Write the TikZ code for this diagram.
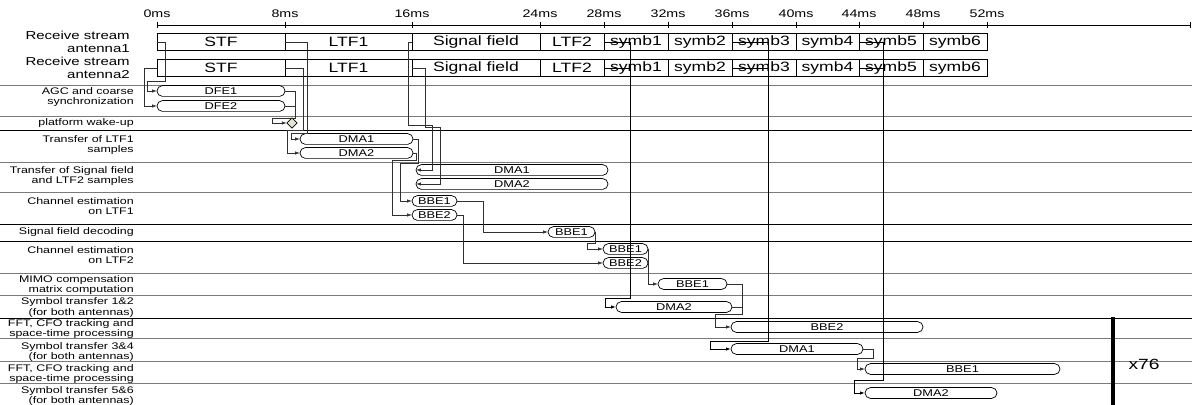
\documentclass[tikz,border=0pt]{standalone}
\usepackage{fontspec}
\setmainfont{Liberation Sans}[FakeStretch=1.3]
\usepackage{tikz}
\usetikzlibrary{positioning,arrows.meta,shapes.misc,shapes.geometric}
\definecolor{rowGray}{HTML}{7A7A7A}
\definecolor{linkGray}{HTML}{303030}
\definecolor{wakeFill}{HTML}{E4E4CE}

\begin{document}
\begin{tikzpicture}[
  x=0.025cm, y=-0.025cm,
  ticklab/.style={font=\fontsize{7.8}{8}\selectfont, inner sep=0pt},
  stream/.style={font=\fontsize{8.2}{9}\selectfont, align=right, anchor=east, inner sep=0pt},
  seg/.style={draw, line width=0.6pt, minimum height=0.435cm, inner sep=0pt,
              outer sep=0pt, font=\fontsize{9.6}{10}\selectfont},
  rowlab/.style={font=\fontsize{6.8}{7.2}\selectfont, align=right, anchor=east, inner sep=0pt},
  pill/.style={rounded rectangle, draw, line width=0.5pt, minimum height=0.27cm,
               inner sep=0pt, outer sep=0pt, font=\fontsize{7}{7}\selectfont},
  wake/.style={diamond, draw, line width=0.5pt, fill=wakeFill, inner sep=0pt,
               minimum size=0.26cm, outer sep=0pt},
  rowline/.style={draw=rowGray, line width=0.7pt},
  wire/.style={line width=0.5pt, linkGray},
  conn/.style={wire, -{Latex[length=3.5pt,width=2.4pt]}},
  symwire/.style={line width=0.7pt, black},
  symconn/.style={symwire, -{Latex[length=3.5pt,width=2.4pt]}},
]
\useasboundingbox[fill=white] (0,0) rectangle (1192,405);

% Time axis
\draw[line width=0.6pt] (157,25) -- (1190,25);
\draw[line width=0.5pt] (157,22) -- (157,28) (285,22) -- (285,28) (412,22) -- (412,28)
  (540,22) -- (540,28) (604,22) -- (604,28) (668,22) -- (668,28) (732,22) -- (732,28)
  (796,22) -- (796,28) (859,22) -- (859,28) (923,22) -- (923,28) (987,22) -- (987,28)
  (1190,22) -- (1190,28);
\node[ticklab] (t0) at (157,14) {0ms};
\node[ticklab] (t8) at (285,14) {8ms};
\node[ticklab] (t16) at (412,14) {16ms};
\node[ticklab] (t24) at (540,14) {24ms};
\node[ticklab] (t28) at (604,14) {28ms};
\node[ticklab] (t32) at (668,14) {32ms};
\node[ticklab] (t36) at (732,14) {36ms};
\node[ticklab] (t40) at (796,14) {40ms};
\node[ticklab] (t44) at (859,14) {44ms};
\node[ticklab] (t48) at (923,14) {48ms};
\node[ticklab] (t52) at (987,14) {52ms};

% Row separators
\draw[rowline] (0,85) -- (1192,85);
\draw[rowline] (0,116) -- (1192,116);
\draw[rowline, draw=black] (0,130) -- (1192,130);
\draw[rowline] (0,162) -- (1192,162);
\draw[rowline] (0,192) -- (1192,192);
\draw[rowline, draw=black] (0,224) -- (1192,224);
\draw[rowline, draw=black] (0,241) -- (1192,241);
\draw[rowline] (0,273) -- (1192,273);
\draw[rowline] (0,295) -- (1192,295);
\draw[rowline, draw=black] (0,318) -- (1192,318);
\draw[rowline] (0,338) -- (1192,338);
\draw[rowline] (0,361) -- (1192,361);
\draw[rowline] (0,383) -- (1192,383);

% Row labels
\node[stream] (lant1) at (130,42) {Receive stream\\antenna1};
\node[stream] (lant2) at (130,68) {Receive stream\\antenna2};
\node[rowlab] (lagc) at (134,97) {AGC and coarse\\synchronization};
\node[rowlab] (lwake) at (134,123) {platform wake-up};
\node[rowlab] (lltf) at (134,145) {Transfer of LTF1\\samples};
\node[rowlab] (lsig) at (134,176) {Transfer of Signal field\\and LTF2 samples};
\node[rowlab] (lcea) at (134,206) {Channel estimation\\on LTF1};
\node[rowlab] (lsfd) at (134,232) {Signal field decoding};
\node[rowlab] (lceb) at (134,255) {Channel estimation\\on LTF2};
\node[rowlab] (lmimo) at (134,285) {MIMO compensation\\matrix computation};
\node[rowlab] (lsta) at (134,307.5) {Symbol transfer 1\&2\\(for both antennas)};
\node[rowlab] (lffta) at (134,329) {FFT, CFO tracking and\\space-time processing};
\node[rowlab] (lstb) at (134,352) {Symbol transfer 3\&4\\(for both antennas)};
\node[rowlab] (lfftb) at (134,374) {FFT, CFO tracking and\\space-time processing};
\node[rowlab] (lstc) at (134,396) {Symbol transfer 5\&6\\(for both antennas)};

% Antenna 1 stream
\node[seg, minimum width=3.2cm] (a1stf) at (221,42) {STF};
\node[seg, minimum width=3.175cm] (a1ltf) at (348.5,42) {LTF1};
\node[seg, minimum width=3.2cm] (a1sig) at (476,42) {Signal field};
\node[seg, minimum width=1.6cm] (a1ltfb) at (572,42) {LTF2};
\node[seg, minimum width=1.6cm] (a1sym1) at (636,42) {symb1};
\node[seg, minimum width=1.6cm] (a1sym2) at (700,42) {symb2};
\node[seg, minimum width=1.6cm] (a1sym3) at (764,42) {symb3};
\node[seg, minimum width=1.575cm] (a1sym4) at (827.5,42) {symb4};
\node[seg, minimum width=1.6cm] (a1sym5) at (891,42) {symb5};
\node[seg, minimum width=1.6cm] (a1sym6) at (955,42) {symb6};

% Antenna 2 stream
\node[seg, minimum width=3.2cm] (a2stf) at (221,68) {STF};
\node[seg, minimum width=3.175cm] (a2ltf) at (348.5,68) {LTF1};
\node[seg, minimum width=3.2cm] (a2sig) at (476,68) {Signal field};
\node[seg, minimum width=1.6cm] (a2ltfb) at (572,68) {LTF2};
\node[seg, minimum width=1.6cm] (a2sym1) at (636,68) {symb1};
\node[seg, minimum width=1.6cm] (a2sym2) at (700,68) {symb2};
\node[seg, minimum width=1.6cm] (a2sym3) at (764,68) {symb3};
\node[seg, minimum width=1.575cm] (a2sym4) at (827.5,68) {symb4};
\node[seg, minimum width=1.6cm] (a2sym5) at (891,68) {symb5};
\node[seg, minimum width=1.6cm] (a2sym6) at (955,68) {symb6};

% Tasks
\node[pill, minimum width=3.2cm] (dfea) at (221,91) {DFE1};
\node[pill, minimum width=3.2cm] (dfeb) at (221,106) {DFE2};
\node[wake] (wakeup) at (292,123) {};
\node[pill, minimum width=2.825cm] (ltfdmaa) at (356.5,139) {DMA1};
\node[pill, minimum width=2.825cm] (ltfdmab) at (356.5,153) {DMA2};
\node[pill, minimum width=4.8cm] (sigdmaa) at (512,170) {DMA1};
\node[pill, minimum width=4.8cm] (sigdmab) at (512,184) {DMA2};
\node[pill, minimum width=1.125cm] (cebbea) at (434.5,201) {BBE1};
\node[pill, minimum width=1.125cm] (cebbeb) at (434.5,215) {BBE2};
\node[pill, minimum width=1.175cm] (sfbbe) at (571.5,232) {BBE1};
\node[pill, minimum width=1.125cm] (ce2bbea) at (625.5,249) {BBE1};
\node[pill, minimum width=1.125cm] (ce2bbeb) at (625.5,263) {BBE2};
\node[pill, minimum width=1.725cm] (mimobbe) at (692.5,284) {BBE1};
\node[pill, minimum width=2.9cm] (st12dma) at (674,307) {DMA2};
\node[pill, minimum width=4.8cm] (fftabbe) at (827,327) {BBE2};
\node[pill, minimum width=3.3cm] (st34dma) at (797,349) {DMA1};
\node[pill, minimum width=4.875cm] (fftbbbe) at (962.5,369) {BBE1};
\node[pill, minimum width=3.3cm] (st56dma) at (931,393) {DMA2};

% Repetition
\draw[line width=2.2pt] (1113,317) -- (1113,405);
\node[font=\fontsize{10.5}{11}\selectfont, inner sep=0pt] (rep) at (1144,364) {x76};

% Connections
\draw[conn] (a1stf.west) -- ++(8,0) |- (147,81) |- (dfea.west);
\draw[conn] (a2stf.west) -- ++(-13,0) |- (dfeb.west);
\draw[conn] (dfea.east) -- ++(10,0) |- (272,118) |- (wakeup.west);
\draw[wire] (dfeb.east) -- ++(10,0);
\draw[conn] (a1ltf.west) -- ++(22,0) |- (291,133) |- (ltfdmaa.west);
\draw[conn] (a2ltf.west) -- ++(18,0) |- (287,130) |- (ltfdmab.west);
\draw[conn] (a1sig.west) -- ++(-4,0) |- (432,125) |- (sigdmaa.west);
\draw[conn] (a2sig.west) -- ++(13,0) |- (440,127) |- (sigdmab.west);
\draw[conn] (ltfdmaa.east) -- ++(5,0) |- (400,163) |- (cebbea.west);
\draw[conn] (ltfdmab.east) -- ++(3,0) |- (392,160) |- (cebbeb.west);
\draw[conn] (cebbea.east) -- ++(26,0) |- (sfbbe.west);
\draw[conn] (cebbeb.east) -- ++(6,0) |- (ce2bbeb.west);
\draw[conn] (sfbbe.east) |- (587,243) |- (ce2bbea.west);
\draw[conn] (ce2bbea.east) |- (mimobbe.west);
\draw[symconn] (a1sym1.west) -- ++(26,0) |- (605,298) |- (st12dma.west);
\draw[symwire] (a2sym1.west) -- ++(26,0);
\draw[conn] (mimobbe.east) -- ++(15,0) |- (715,314) |- (fftabbe.west);
\draw[wire] (st12dma.east) -- ++(10,0);
\draw[symconn] (a1sym3.west) -- ++(36,0) |- (710,341) |- (st34dma.west);
\draw[symwire] (a2sym3.west) -- ++(36,0);
\draw[conn] (st34dma.east) -- ++(10,0) |- (857,358) |- (fftbbbe.west);
\draw[symconn] (a1sym5.west) -- ++(24,0) |- (854,380) |- (st56dma.west);
\draw[symwire] (a2sym5.west) -- ++(24,0);

\end{tikzpicture}
\end{document}
